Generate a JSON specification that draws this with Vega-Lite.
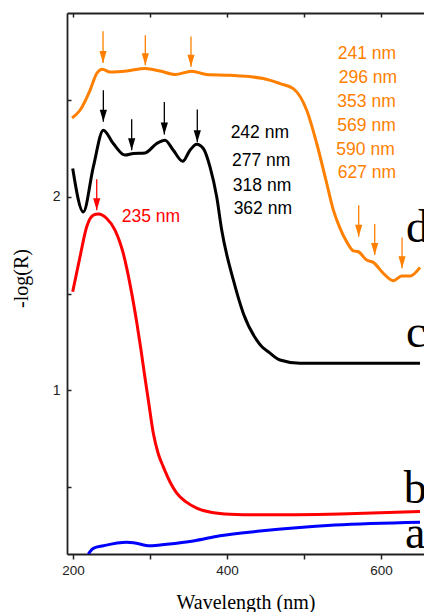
{
  "$schema": "https://vega.github.io/schema/vega-lite/v6.json",
  "width": 357,
  "height": 541,
  "autosize": {"type": "none"},
  "padding": {"left": 67, "top": 13, "right": 0, "bottom": 58},
  "background": "white",
  "config": {"view": {"stroke": null}, "axis": {"grid": false}},
  "datasets": {
    "curves": [
      {"s": "d", "wl": 198.7, "v": 2.408}, {"s": "d", "wl": 209.1, "v": 2.448}, {"s": "d", "wl": 222.1, "v": 2.551},
      {"s": "d", "wl": 230.8, "v": 2.638}, {"s": "d", "wl": 238.1, "v": 2.660}, {"s": "d", "wl": 248.1, "v": 2.646},
      {"s": "d", "wl": 269.7, "v": 2.651}, {"s": "d", "wl": 293.5, "v": 2.664}, {"s": "d", "wl": 313.0, "v": 2.651},
      {"s": "d", "wl": 332.5, "v": 2.633}, {"s": "d", "wl": 354.2, "v": 2.650}, {"s": "d", "wl": 373.6, "v": 2.633},
      {"s": "d", "wl": 403.9, "v": 2.629}, {"s": "d", "wl": 447.1, "v": 2.612}, {"s": "d", "wl": 468.8, "v": 2.586},
      {"s": "d", "wl": 486.1, "v": 2.560}, {"s": "d", "wl": 503.5, "v": 2.448}, {"s": "d", "wl": 516.5, "v": 2.276},
      {"s": "d", "wl": 529.5, "v": 2.069}, {"s": "d", "wl": 538.1, "v": 1.931}, {"s": "d", "wl": 546.8, "v": 1.837},
      {"s": "d", "wl": 555.5, "v": 1.767}, {"s": "d", "wl": 564.0, "v": 1.721}, {"s": "d", "wl": 570.5, "v": 1.716},
      {"s": "d", "wl": 581.4, "v": 1.673}, {"s": "d", "wl": 590.0, "v": 1.661}, {"s": "d", "wl": 603.0, "v": 1.604},
      {"s": "d", "wl": 616.0, "v": 1.566}, {"s": "d", "wl": 626.9, "v": 1.590}, {"s": "d", "wl": 637.7, "v": 1.590},
      {"s": "d", "wl": 650.6, "v": 1.635},
      {"s": "c", "wl": 199.6, "v": 2.147}, {"s": "c", "wl": 213.4, "v": 1.922}, {"s": "c", "wl": 226.4, "v": 2.155},
      {"s": "c", "wl": 239.4, "v": 2.345}, {"s": "c", "wl": 252.3, "v": 2.276}, {"s": "c", "wl": 267.5, "v": 2.216},
      {"s": "c", "wl": 278.3, "v": 2.224}, {"s": "c", "wl": 293.5, "v": 2.227}, {"s": "c", "wl": 308.7, "v": 2.276},
      {"s": "c", "wl": 319.5, "v": 2.293}, {"s": "c", "wl": 330.3, "v": 2.241}, {"s": "c", "wl": 342.5, "v": 2.184},
      {"s": "c", "wl": 351.9, "v": 2.241}, {"s": "c", "wl": 360.6, "v": 2.272}, {"s": "c", "wl": 369.2, "v": 2.250},
      {"s": "c", "wl": 377.9, "v": 2.155}, {"s": "c", "wl": 386.6, "v": 2.000}, {"s": "c", "wl": 393.1, "v": 1.828},
      {"s": "c", "wl": 408.2, "v": 1.570}, {"s": "c", "wl": 421.2, "v": 1.397}, {"s": "c", "wl": 438.6, "v": 1.259},
      {"s": "c", "wl": 446.0, "v": 1.222}, {"s": "c", "wl": 453.6, "v": 1.199}, {"s": "c", "wl": 468.8, "v": 1.156},
      {"s": "c", "wl": 494.8, "v": 1.139}, {"s": "c", "wl": 650.6, "v": 1.139},
      {"s": "b", "wl": 199.6, "v": 1.509}, {"s": "b", "wl": 209.1, "v": 1.690}, {"s": "b", "wl": 217.8, "v": 1.845},
      {"s": "b", "wl": 226.4, "v": 1.905}, {"s": "b", "wl": 232.9, "v": 1.911}, {"s": "b", "wl": 243.8, "v": 1.888},
      {"s": "b", "wl": 254.5, "v": 1.828}, {"s": "b", "wl": 265.3, "v": 1.707}, {"s": "b", "wl": 276.2, "v": 1.502},
      {"s": "b", "wl": 282.7, "v": 1.352}, {"s": "b", "wl": 288.3, "v": 1.208}, {"s": "b", "wl": 293.5, "v": 1.063},
      {"s": "b", "wl": 297.8, "v": 0.949}, {"s": "b", "wl": 304.3, "v": 0.777}, {"s": "b", "wl": 310.4, "v": 0.675},
      {"s": "b", "wl": 317.3, "v": 0.603}, {"s": "b", "wl": 326.0, "v": 0.525}, {"s": "b", "wl": 334.7, "v": 0.467},
      {"s": "b", "wl": 346.8, "v": 0.422}, {"s": "b", "wl": 360.6, "v": 0.390}, {"s": "b", "wl": 380.5, "v": 0.367},
      {"s": "b", "wl": 403.9, "v": 0.358}, {"s": "b", "wl": 442.9, "v": 0.355}, {"s": "b", "wl": 546.8, "v": 0.360},
      {"s": "b", "wl": 650.6, "v": 0.372},
      {"s": "a", "wl": 219.9, "v": 0.152}, {"s": "a", "wl": 222.1, "v": 0.165}, {"s": "a", "wl": 226.4, "v": 0.182},
      {"s": "a", "wl": 239.4, "v": 0.195}, {"s": "a", "wl": 269.7, "v": 0.213}, {"s": "a", "wl": 278.3, "v": 0.211},
      {"s": "a", "wl": 300.0, "v": 0.195}, {"s": "a", "wl": 321.7, "v": 0.203}, {"s": "a", "wl": 356.2, "v": 0.220},
      {"s": "a", "wl": 390.9, "v": 0.247}, {"s": "a", "wl": 442.9, "v": 0.271}, {"s": "a", "wl": 540.3, "v": 0.302},
      {"s": "a", "wl": 650.6, "v": 0.317}
    ],
    "arrows": [
      {"s": "d", "wl": 239.0, "top": 2.856, "tip": 2.692},
      {"s": "d", "wl": 293.9, "top": 2.836, "tip": 2.681},
      {"s": "d", "wl": 353.2, "top": 2.830, "tip": 2.673},
      {"s": "d", "wl": 571.0, "top": 1.957, "tip": 1.793},
      {"s": "d", "wl": 591.8, "top": 1.859, "tip": 1.699},
      {"s": "d", "wl": 627.3, "top": 1.790, "tip": 1.630},
      {"s": "c", "wl": 239.4, "top": 2.551, "tip": 2.388},
      {"s": "c", "wl": 276.2, "top": 2.402, "tip": 2.241},
      {"s": "c", "wl": 318.6, "top": 2.491, "tip": 2.322},
      {"s": "c", "wl": 361.4, "top": 2.452, "tip": 2.283},
      {"s": "b", "wl": 230.8, "top": 2.091, "tip": 1.931}
    ],
    "notes": [
      {"s": "d", "wl": 581.7, "v": 2.715, "t": "241 nm"},
      {"s": "d", "wl": 582.9, "v": 2.591, "t": "296 nm"},
      {"s": "d", "wl": 581.2, "v": 2.465, "t": "353 nm"},
      {"s": "d", "wl": 581.2, "v": 2.341, "t": "569 nm"},
      {"s": "d", "wl": 579.9, "v": 2.216, "t": "590 nm"},
      {"s": "d", "wl": 581.7, "v": 2.100, "t": "627 nm"},
      {"s": "c", "wl": 442.6, "v": 2.305, "t": "242 nm"},
      {"s": "c", "wl": 444.4, "v": 2.159, "t": "277 nm"},
      {"s": "c", "wl": 445.5, "v": 2.029, "t": "318 nm"},
      {"s": "c", "wl": 446.5, "v": 1.909, "t": "362 nm"},
      {"s": "b", "wl": 301.1, "v": 1.871, "t": "235 nm"}
    ],
    "letters": [
      {"wl": 632.5, "v": 1.766, "t": "d"},
      {"wl": 632.5, "v": 1.223, "t": "c"},
      {"wl": 629.5, "v": 0.414, "t": "b"},
      {"wl": 631.0, "v": 0.182, "t": "a"}
    ]
  },
  "resolve": {"axis": {"x": "independent"}},
  "layer": [
    {
      "data": {"name": "curves"},
      "mark": {"type": "line", "strokeWidth": 3, "interpolate": "monotone", "clip": true},
      "encoding": {
        "x": {
          "field": "wl", "type": "quantitative",
          "scale": {"domain": [192.2, 655.8], "nice": false, "zero": false},
          "axis": {
            "orient": "bottom", "values": [200, 300, 400, 500, 600],
            "labelExpr": "datum.value % 200 == 0 ? format(datum.value, 'd') : ''",
            "labelFont": "Liberation Sans", "labelFontSize": 13.5, "labelColor": "#222",
            "labelPadding": 4, "tickSize": 5, "tickColor": "#222", "tickWidth": 1.5,
            "domainColor": "#222", "domainWidth": 1.8,
            "title": "Wavelength (nm)", "titleFont": "Liberation Serif", "titleFontSize": 20,
            "titleFontWeight": "normal", "titleColor": "#000",
            "titleBaseline": "alphabetic", "titleY": 54
          }
        },
        "y": {
          "field": "v", "type": "quantitative",
          "scale": {"domain": [0.1525, 2.951], "nice": false, "zero": false},
          "axis": {
            "orient": "left", "values": [0.5, 1, 1.5, 2, 2.5],
            "labelExpr": "datum.value == 1 ? '1' : datum.value == 2 ? '2' : ''",
            "labelFont": "Liberation Sans", "labelFontSize": 14, "labelColor": "#222",
            "tickSize": -4, "labelPadding": 11, "tickColor": "#222", "tickWidth": 1.5,
            "domainColor": "#222", "domainWidth": 1.8,
            "title": "-log(R)", "titleFont": "Liberation Serif", "titleFontSize": 20,
            "titleFontWeight": "normal", "titleColor": "#000",
            "titleX": -40, "titleY": 265, "titleAngle": 270, "titleAlign": "center", "titleBaseline": "alphabetic"
          }
        },
        "color": {
          "field": "s", "type": "nominal",
          "scale": {"domain": ["a", "b", "c", "d"], "range": ["#0000FF", "#FF0000", "#000000", "#FF8000"]},
          "legend": null
        }
      }
    },
    {
      "data": {"name": "arrows"},
      "mark": {"type": "rule", "strokeWidth": 1.3},
      "encoding": {
        "x": {
          "field": "wl", "type": "quantitative",
          "axis": {
            "orient": "top", "values": [200, 300, 400, 500, 600], "labels": false,
            "tickSize": -4, "tickColor": "#222", "tickWidth": 1.5,
            "domainColor": "#222", "domainWidth": 1.8, "title": null
          }
        },
        "y": {"field": "top", "type": "quantitative"},
        "y2": {"field": "tip"},
        "color": {"field": "s", "type": "nominal", "legend": null}
      }
    },
    {
      "data": {"name": "arrows"},
      "mark": {"type": "point", "shape": "M-0.6,-2L0.6,-2L0,0Z", "size": 144, "filled": true, "opacity": 1, "strokeWidth": 0},
      "encoding": {
        "x": {"field": "wl", "type": "quantitative", "axis": null},
        "y": {"field": "tip", "type": "quantitative"},
        "color": {"field": "s", "type": "nominal", "legend": null}
      }
    },
    {
      "data": {"name": "notes"},
      "mark": {"type": "text", "font": "Liberation Sans", "fontSize": 17.5, "align": "center", "baseline": "alphabetic"},
      "encoding": {
        "x": {"field": "wl", "type": "quantitative", "axis": null},
        "y": {"field": "v", "type": "quantitative"},
        "text": {"field": "t"},
        "color": {"field": "s", "type": "nominal", "legend": null}
      }
    },
    {
      "data": {"name": "letters"},
      "mark": {"type": "text", "font": "Liberation Serif", "fontSize": 46, "align": "left", "baseline": "alphabetic", "color": "#000"},
      "encoding": {
        "x": {"field": "wl", "type": "quantitative", "axis": null},
        "y": {"field": "v", "type": "quantitative"},
        "text": {"field": "t"}
      }
    }
  ]
}
